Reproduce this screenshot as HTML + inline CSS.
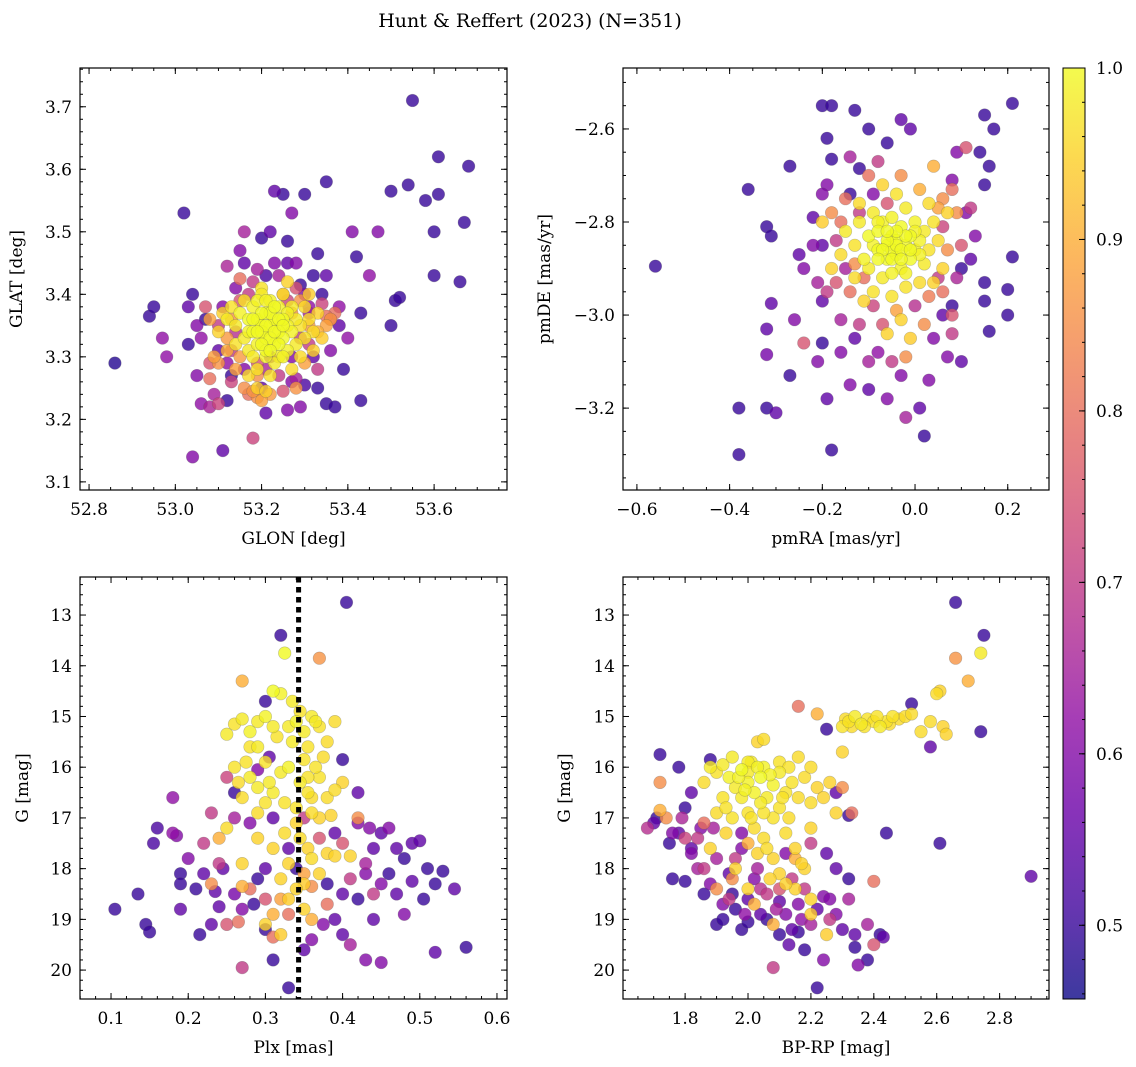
<!DOCTYPE html>
<html><head><meta charset="utf-8"><style>
html,body{margin:0;padding:0;background:#fff}
svg{display:block;font-family:"DejaVu Serif","Liberation Serif",serif}
</style></head><body>
<svg id="fig" xmlns="http://www.w3.org/2000/svg" width="1136" height="1067" viewBox="0 0 1136 1067">
<text x="530" y="27" font-size="19" text-anchor="middle">Hunt &amp; Reffert (2023) (N=351)</text>
</svg>
<script>
// ---------- data: [x, y, membership probability] ----------
const glonGlat = [
[52.86,3.29,.48],[52.94,3.365,.5],[52.95,3.38,.5],[52.97,3.33,.62],[52.98,3.30,.62],[53.02,3.53,.5],[53.03,3.32,.5],[53.03,3.38,.55],[53.04,3.40,.5],[53.05,3.35,.6],[53.07,3.36,.5],[53.04,3.14,.6],[53.06,3.225,.62],[53.08,3.22,.66],[53.10,3.225,.72],[53.11,3.15,.55],[53.12,3.23,.5],[53.12,3.445,.66],[53.13,3.27,.5],[53.15,3.47,.6],[53.16,3.50,.65],[53.18,3.17,.72],[53.20,3.49,.5],[53.21,3.43,.52],[53.22,3.50,.55],[53.23,3.565,.55],[53.25,3.56,.5],[53.27,3.53,.6],[53.26,3.485,.5],[53.28,3.45,.6],[53.29,3.415,.5],[53.30,3.56,.5],[53.32,3.43,.5],[53.33,3.465,.5],[53.32,3.30,.55],[53.31,3.38,.62],[53.34,3.40,.5],[53.35,3.58,.5],[53.35,3.43,.55],[53.33,3.25,.5],[53.35,3.225,.5],[53.37,3.22,.5],[53.38,3.38,.62],[53.39,3.28,.5],[53.41,3.50,.6],[53.42,3.46,.5],[53.43,3.37,.5],[53.43,3.23,.5],[53.45,3.43,.62],[53.47,3.50,.6],[53.50,3.565,.5],[53.50,3.35,.5],[53.51,3.39,.5],[53.52,3.395,.5],[53.54,3.575,.5],[53.55,3.71,.5],[53.58,3.55,.5],[53.60,3.50,.5],[53.60,3.43,.5],[53.61,3.56,.5],[53.61,3.62,.5],[53.66,3.42,.5],[53.67,3.515,.5],[53.68,3.605,.5],
[53.34,3.385,.72],[53.37,3.37,.8],[53.36,3.36,.75],[53.05,3.27,.6],[53.08,3.29,.75],[53.08,3.265,.8],[53.17,3.24,.8],[53.19,3.235,.85],[53.20,3.25,.55],[53.26,3.215,.6],[53.28,3.265,.65],[53.30,3.255,.52],[53.15,3.425,.8],[53.13,3.31,.7],[53.07,3.38,.75],[53.10,3.35,.7],[53.35,3.365,.8],[53.14,3.41,.6],[53.18,3.42,.7],[53.24,3.43,.65],[53.28,3.41,.75],[53.30,3.40,.6],[53.11,3.38,.6],[53.06,3.33,.62],[53.24,3.27,.7],[53.27,3.30,.6],[53.31,3.32,.7],[53.22,3.30,.6],[53.19,3.29,.75],[53.16,3.28,.6],[53.13,3.26,.72],[53.25,3.245,.75],[53.29,3.22,.6],[53.21,3.21,.55],[53.09,3.24,.65],[53.38,3.35,.55],[53.40,3.33,.62],[53.16,3.45,.55],[53.23,3.45,.6],
[53.17,3.40,.7],[53.26,3.39,.72],[53.14,3.34,.68],[53.29,3.33,.7],[53.21,3.28,.66],[53.27,3.26,.6],[53.15,3.39,.75],[53.31,3.37,.65],[53.12,3.29,.62],[53.33,3.28,.7],[53.19,3.44,.65],[53.26,3.45,.55],[53.10,3.31,.55],[53.36,3.31,.6],
[53.09,3.30,.88],[53.10,3.29,.86],[53.12,3.31,.9],[53.14,3.28,.88],[53.15,3.30,.87],[53.18,3.245,.86],[53.20,3.23,.88],[53.22,3.24,.87],[53.28,3.25,.86],[53.30,3.29,.88],[53.33,3.34,.9],[53.35,3.35,.88],[53.16,3.25,.85],[53.12,3.33,.87],[53.08,3.36,.88],[53.36,3.36,.86],[53.29,3.39,.86],[53.25,3.40,.84],[53.13,3.36,.86],[53.31,3.35,.87],[53.19,3.27,.85],[53.27,3.37,.86],
[53.12,3.36,.98],[53.13,3.38,.97],[53.14,3.35,.98],[53.15,3.37,.99],[53.16,3.33,.98],[53.16,3.39,.97],[53.17,3.36,1],[53.17,3.31,.98],[53.18,3.34,1],[53.18,3.38,.99],[53.19,3.36,1],[53.19,3.32,.99],[53.19,3.28,.97],[53.20,3.35,1],[53.20,3.40,.98],[53.21,3.33,1],[53.21,3.37,1],[53.21,3.30,.99],[53.22,3.35,1],[53.22,3.39,.99],[53.22,3.27,.97],[53.23,3.32,1],[53.23,3.36,1],[53.24,3.34,1],[53.24,3.38,.99],[53.24,3.30,.98],[53.25,3.36,1],[53.25,3.33,1],[53.26,3.35,.99],[53.26,3.31,.99],[53.27,3.38,.98],[53.27,3.34,.99],[53.28,3.36,.98],[53.28,3.32,.98],[53.29,3.35,.97],[53.30,3.38,.96],[53.30,3.33,.97],[53.31,3.36,.96],[53.32,3.34,.96],[53.33,3.37,.95],[53.20,3.41,.97],[53.25,3.40,.96],[53.18,3.30,.98],[53.14,3.32,.97],[53.23,3.29,.98],[53.29,3.30,.96],[53.32,3.31,.95],[53.19,3.25,.95],[53.17,3.27,.96],[53.26,3.42,.95],[53.31,3.40,.94],[53.10,3.34,.95],[53.11,3.37,.95],[53.21,3.245,.95],[53.27,3.28,.96],[53.34,3.33,.94],
[53.20,3.34,1],[53.21,3.35,1],[53.22,3.33,1],[53.23,3.34,1],[53.22,3.37,1],[53.20,3.37,1],[53.24,3.36,1],[53.19,3.34,1],[53.21,3.31,1],[53.23,3.38,1],[53.25,3.35,1],[53.18,3.36,1],[53.24,3.32,1],[53.20,3.32,1],[53.22,3.31,1],[53.26,3.37,.99],[53.19,3.39,.99],[53.17,3.34,.99],[53.25,3.30,.99],[53.21,3.39,.99]
];
const pmraPmde = [
[-0.56,-2.895,.5],[-0.38,-3.30,.5],[-0.38,-3.20,.5],[-0.36,-2.73,.5],[-0.32,-2.81,.5],[-0.31,-2.83,.5],[-0.32,-3.20,.5],[-0.30,-3.21,.55],[-0.31,-2.975,.55],[-0.32,-3.03,.55],[-0.32,-3.085,.58],[-0.27,-2.68,.5],[-0.27,-3.13,.5],[-0.24,-2.90,.6],[-0.26,-3.01,.6],[-0.20,-2.55,.5],[-0.18,-2.55,.5],[-0.19,-2.62,.5],[-0.18,-2.665,.5],[-0.13,-2.56,.5],[-0.10,-2.60,.5],[-0.12,-2.685,.5],[-0.18,-3.29,.5],[-0.19,-3.18,.55],[-0.16,-3.08,.6],[-0.14,-3.15,.6],[-0.10,-3.16,.55],[-0.06,-3.18,.6],[-0.03,-3.13,.6],[0.02,-3.26,.5],[0.01,-3.20,.55],[0.03,-3.14,.6],[0.04,-3.05,.6],[0.07,-3.09,.6],[0.10,-3.10,.55],[0.10,-2.90,.5],[0.14,-2.65,.5],[0.15,-2.57,.5],[0.17,-2.60,.5],[0.16,-2.68,.5],[0.15,-2.72,.5],[0.15,-2.93,.5],[0.15,-2.97,.5],[0.16,-3.035,.5],[0.20,-3.00,.5],[0.20,-2.945,.5],[0.21,-2.875,.5],[0.21,-2.545,.5],[0.08,-2.98,.5],[-0.06,-2.63,.5],[-0.03,-2.58,.55],[-0.01,-2.60,.55],[0.08,-2.71,.6],[0.09,-2.65,.6],[-0.14,-2.74,.5],[-0.09,-2.74,.6],[-0.20,-2.85,.55],[-0.20,-2.97,.55],[-0.21,-3.10,.6],[-0.20,-3.06,.5],[0.11,-2.78,.6],[0.12,-2.88,.55],[0.13,-2.83,.6],[-0.22,-2.79,.55],[-0.25,-2.87,.55],[0.06,-3.00,.55],[-0.08,-3.08,.62],[-0.13,-3.05,.55],
[-0.18,-2.78,.85],[-0.15,-2.75,.8],[-0.14,-2.95,.8],[-0.17,-2.93,.75],[-0.10,-2.70,.8],[-0.08,-2.67,.7],[-0.03,-2.70,.85],[0.01,-2.73,.9],[0.04,-2.68,.9],[0.06,-2.75,.85],[0.08,-2.73,.8],[0.09,-2.78,.85],[0.10,-2.85,.75],[0.06,-2.95,.8],[0.08,-3.00,.75],[0.08,-3.04,.7],[0.02,-3.02,.85],[-0.02,-3.09,.85],[-0.07,-3.02,.75],[-0.12,-3.02,.7],[-0.16,-3.01,.65],[-0.21,-2.93,.65],[-0.22,-2.85,.6],[-0.10,-3.10,.65],[-0.05,-3.10,.7],[-0.24,-3.06,.75],[-0.14,-2.66,.65],[0.11,-2.64,.75],[-0.19,-2.72,.6],[0.12,-2.77,.7],[-0.02,-3.22,.65],[-0.20,-2.74,.6],[-0.16,-2.80,.8],[-0.13,-2.89,.85],[0.05,-2.77,.88],[0.07,-2.86,.85],[-0.04,-2.99,.88],[-0.11,-2.92,.8],[0.03,-2.96,.82],
[-0.17,-2.84,.7],[-0.15,-2.90,.65],[0.06,-2.81,.72],[0.05,-2.92,.7],[-0.09,-2.98,.72],[-0.12,-2.78,.7],[0.00,-2.98,.68],[-0.06,-2.76,.75],[0.09,-2.92,.66],[-0.19,-2.95,.7],
[-0.15,-2.82,.98],[-0.13,-2.85,.97],[-0.12,-2.80,.98],[-0.11,-2.88,.99],[-0.10,-2.83,1],[-0.10,-2.90,.98],[-0.09,-2.78,.98],[-0.08,-2.86,1],[-0.08,-2.82,1],[-0.07,-2.92,.98],[-0.07,-2.80,.99],[-0.06,-2.85,1],[-0.06,-2.88,1],[-0.05,-2.83,1],[-0.05,-2.79,.99],[-0.04,-2.87,1],[-0.04,-2.84,1],[-0.03,-2.90,.99],[-0.03,-2.81,1],[-0.02,-2.85,1],[-0.02,-2.77,.98],[-0.01,-2.88,1],[-0.01,-2.83,1],[0.00,-2.86,.99],[0.00,-2.80,.99],[0.01,-2.84,.99],[0.02,-2.89,.98],[0.02,-2.82,.98],[0.03,-2.86,.97],[0.04,-2.80,.97],[0.05,-2.84,.96],[-0.09,-2.95,.97],[-0.05,-2.96,.97],[-0.02,-2.94,.97],[0.01,-2.93,.96],[-0.13,-2.92,.96],[-0.12,-2.76,.96],[-0.04,-2.74,.97],[0.03,-2.76,.96],[-0.16,-2.87,.96],[0.06,-2.90,.95],[-0.07,-2.72,.95],[-0.03,-3.01,.95],[-0.06,-3.04,.95],[-0.20,-2.80,.94],[-0.18,-2.90,.95],[0.07,-2.78,.95],[-0.11,-2.97,.95],[0.04,-2.93,.95],[-0.01,-3.05,.94],
[-0.05,-2.86,1],[-0.04,-2.85,1],[-0.06,-2.84,1],[-0.03,-2.86,1],[-0.05,-2.88,1],[-0.07,-2.86,1],[-0.02,-2.83,1],[-0.04,-2.82,1],[-0.08,-2.88,1],[-0.01,-2.86,1],[-0.03,-2.88,1],[-0.06,-2.82,1],[-0.09,-2.85,.99],[0.01,-2.87,.99],[-0.05,-2.91,.99],[-0.02,-2.91,.99],[-0.08,-2.80,.99],[0.00,-2.82,.99]
];
const plxG = [
[0.105,18.8,.5],[0.135,18.5,.5],[0.145,19.1,.5],[0.15,19.25,.5],[0.155,17.5,.52],[0.16,17.2,.52],[0.18,16.6,.62],[0.18,17.3,.62],[0.185,17.35,.6],[0.19,18.1,.5],[0.19,18.3,.5],[0.19,18.8,.55],[0.20,17.8,.6],[0.21,18.4,.5],[0.215,19.3,.5],[0.23,19.1,.55],[0.235,18.45,.55],[0.24,18.75,.55],[0.245,18.0,.55],[0.26,18.5,.58],[0.27,18.8,.6],[0.27,19.95,.7],[0.285,18.7,.5],[0.30,19.2,.5],[0.31,19.8,.5],[0.33,20.35,.5],[0.32,13.4,.5],[0.405,12.75,.5],[0.37,13.85,.86],[0.325,13.75,1],[0.27,14.3,.9],[0.40,15.85,.5],[0.42,16.5,.55],[0.435,17.2,.6],[0.44,17.6,.55],[0.45,17.3,.55],[0.46,17.2,.6],[0.47,17.6,.55],[0.48,17.8,.5],[0.49,17.5,.55],[0.50,17.45,.55],[0.51,18.0,.5],[0.52,18.3,.5],[0.53,18.05,.5],[0.545,18.4,.55],[0.56,19.55,.5],[0.52,19.65,.55],[0.48,18.9,.6],[0.47,18.5,.55],[0.45,18.3,.6],[0.44,19.0,.55],[0.43,19.8,.6],[0.41,19.5,.65],[0.40,19.3,.55],[0.39,19.0,.55],[0.375,19.1,.6],[0.36,19.4,.6],[0.45,19.85,.6],[0.35,19.6,.55],[0.30,14.7,.5],[0.305,15.8,.55],[0.29,16.05,.6],[0.31,17.0,.55],[0.33,17.6,.55],[0.34,18.0,.5],[0.30,18.0,.55],[0.29,18.2,.5],[0.40,18.5,.55],[0.42,18.6,.5],[0.39,17.3,.55],[0.46,18.1,.5],[0.49,18.25,.55],[0.505,18.6,.5],[0.43,18.1,.6],[0.38,18.3,.5],[0.26,16.5,.5],[0.28,17.1,.6],[0.22,18.1,.55],
[0.22,17.5,.7],[0.23,16.9,.7],[0.26,17.0,.65],[0.28,18.4,.8],[0.36,18.35,.85],[0.38,18.7,.8],[0.41,18.2,.7],[0.43,17.9,.65],[0.42,17.1,.6],[0.30,18.6,.75],[0.265,19.05,.8],[0.44,18.5,.7],[0.35,17.0,.7],[0.25,19.1,.75],[0.33,18.9,.8],[0.40,17.5,.75],[0.24,17.9,.7],[0.31,19.35,.8],[0.37,17.4,.75],[0.25,16.2,.72],[0.32,18.6,.88],[0.27,18.35,.9],[0.35,18.1,.88],[0.42,17.0,.85],[0.23,18.3,.85],
[0.25,15.35,.98],[0.26,15.15,.97],[0.27,15.05,.98],[0.28,15.3,.99],[0.29,15.1,.98],[0.30,15.0,.99],[0.31,14.5,1],[0.32,14.55,.99],[0.33,15.2,.98],[0.335,14.7,.98],[0.34,15.1,.99],[0.35,15.3,.98],[0.355,15.6,.97],[0.36,15.0,.98],[0.365,15.1,.98],[0.37,15.2,.97],[0.38,15.5,.96],[0.39,15.1,.96],[0.28,15.6,.97],[0.26,16.0,.97],[0.265,16.3,.96],[0.27,16.6,.96],[0.28,16.2,.98],[0.29,16.4,.98],[0.30,16.7,.97],[0.31,16.5,.98],[0.32,16.1,.98],[0.33,16.0,.99],[0.34,16.8,.97],[0.345,16.3,.98],[0.355,16.5,.97],[0.36,16.9,.96],[0.37,16.2,.97],[0.38,16.6,.96],[0.39,16.45,.96],[0.40,16.3,.95],[0.30,15.9,.97],[0.29,17.4,.95],[0.31,17.6,.95],[0.33,17.9,.95],[0.36,17.8,.96],[0.38,17.7,.95],[0.39,17.75,.95],[0.41,17.75,.95],[0.37,18.1,.95],[0.34,18.4,.95],[0.32,18.2,.95],[0.35,18.8,.95],[0.30,19.1,.95],[0.32,19.3,.94],[0.27,17.9,.95],[0.25,17.2,.96],[0.24,17.4,.9],[0.35,15.85,.97],[0.365,16.0,.97],[0.345,17.4,.96],[0.325,17.3,.96],[0.29,16.9,.96],[0.315,15.4,.97],[0.345,14.9,.97],[0.385,16.95,.95],
[0.29,15.6,.98],[0.305,16.3,.98],[0.325,16.7,.97],[0.335,15.5,.98],[0.355,16.2,.97],[0.36,16.6,.96],[0.375,15.8,.96],[0.275,15.9,.97],[0.31,15.2,.98],[0.34,17.1,.95],[0.355,17.6,.95],[0.37,17.0,.95],[0.35,18.3,.94],[0.33,18.6,.94],[0.36,19.0,.9],[0.31,18.9,.9]
];
const colorMag = [
[2.30,15.2,.97],[2.32,15.1,.97],[2.34,15.0,.98],[2.36,15.15,.98],[2.38,15.05,.97],[2.40,15.1,.97],[2.42,15.2,.98],[2.44,15.1,.97],[2.46,15.0,.97],[2.48,15.05,.96],[2.50,15.0,.96],[2.52,14.95,.96],[2.55,15.3,.96],[2.58,15.1,.96],[2.60,14.55,.96],[2.61,14.5,.95],[2.62,15.2,.95],[2.63,15.35,.95],[2.66,13.85,.86],[2.70,14.3,.9],[2.74,13.75,.98],[2.75,13.4,.5],[2.66,12.75,.5],[2.74,15.3,.5],[2.61,17.5,.5],[2.90,18.15,.55],[2.58,15.6,.55],[2.52,14.75,.5],[2.44,17.3,.5],[2.05,15.45,.96],[2.03,15.5,.95],[2.16,14.8,.8],[2.25,15.25,.5],[2.22,14.95,.9],[2.30,15.7,.95],[2.33,15.2,.96],[2.37,15.2,.97],[2.41,15.0,.97],[2.45,15.15,.96],[2.31,15.05,.96],
[1.88,16.0,.98],[1.90,16.1,.97],[1.92,15.95,.98],[1.94,16.2,.99],[1.95,15.8,.98],[1.96,16.4,.98],[1.98,16.05,1],[2.00,16.3,.99],[2.01,15.9,.98],[2.02,16.5,.99],[2.04,16.2,1],[2.05,16.0,.99],[2.06,16.6,.98],[2.08,16.35,.99],[2.10,16.1,.98],[2.12,16.5,.97],[2.14,16.3,.97],[2.16,16.6,.96],[2.18,16.2,.96],[2.20,16.7,.96],[2.22,16.4,.95],[2.24,16.6,.95],[2.26,16.3,.95],[2.10,16.8,.97],[2.00,16.9,.97],[1.98,16.6,.98],[1.95,17.0,.97],[2.02,17.2,.96],[2.05,17.4,.96],[2.08,17.0,.97],[2.12,17.3,.96],[2.15,17.6,.95],[2.08,17.8,.95],[2.10,18.1,.95],[2.18,18.0,.95],[2.15,18.4,.95],[2.20,18.6,.95],[2.20,18.9,.94],[2.25,19.3,.94],[1.92,16.6,.97],[1.90,16.9,.96],[1.86,16.3,.96],[2.00,15.9,.98],[2.05,16.9,.97],[2.10,15.9,.97],[2.20,16.0,.96],[2.16,15.8,.96],[2.13,16.0,.97],[1.93,17.3,.95],[2.03,17.7,.95],[2.07,18.2,.95],[2.00,18.4,.95],[1.96,18.0,.95],[1.88,17.6,.95],[2.00,16.1,.98],[2.20,17.2,.95],[2.28,16.9,.95],
[1.97,16.2,.99],[2.03,16.0,.99],[2.07,16.15,.99],[1.99,16.45,.99],[2.04,16.7,.98],[2.11,16.6,.97],[1.93,16.8,.97],[2.06,17.6,.96],[2.01,17.0,.97],[2.13,17.0,.96],[2.17,17.9,.95],[2.12,18.3,.95],
[1.72,16.85,.9],[1.72,16.3,.85],[1.74,17.0,.85],[1.90,18.4,.85],[2.02,18.7,.9],[2.08,19.1,.9],[2.15,17.8,.9],[2.00,17.5,.9],[2.30,16.4,.85],[2.33,16.9,.8],[2.40,18.25,.8],[1.95,18.2,.85],[1.86,17.1,.8],
[1.68,17.2,.68],[1.70,17.1,.55],[1.72,15.75,.5],[1.71,17.0,.5],[1.75,17.5,.5],[1.76,18.2,.5],[1.78,17.3,.55],[1.78,16.0,.5],[1.80,16.8,.5],[1.80,18.25,.5],[1.82,16.5,.55],[1.82,17.7,.6],[1.84,18.0,.65],[1.85,17.2,.6],[1.86,18.5,.5],[1.88,18.3,.6],[1.88,15.85,.5],[1.90,19.1,.5],[1.90,17.8,.65],[1.92,18.7,.6],[1.92,19.0,.5],[1.94,18.1,.55],[1.95,18.5,.5],[1.96,18.8,.5],[1.98,19.2,.5],[1.98,17.6,.6],[2.00,18.6,.55],[2.00,19.05,.5],[2.02,18.2,.6],[2.04,18.9,.55],[2.06,19.0,.5],[2.06,18.5,.7],[2.08,19.95,.7],[2.10,18.65,.55],[2.10,19.3,.5],[2.12,18.9,.6],[2.14,19.2,.55],[2.14,18.2,.7],[2.16,19.25,.5],[2.16,18.7,.6],[2.18,19.6,.5],[2.20,19.1,.65],[2.22,18.8,.55],[2.22,20.35,.5],[2.24,18.55,.6],[2.24,19.8,.6],[2.26,18.6,.6],[2.28,18.0,.55],[2.28,18.9,.6],[2.30,19.2,.55],[2.32,18.2,.5],[2.34,19.55,.5],[2.35,19.9,.6],[2.34,19.3,.55],[2.38,19.8,.5],[2.38,19.1,.65],[2.40,19.5,.75],[2.42,19.3,.5],[2.43,19.35,.55],[2.32,16.95,.5],[2.28,16.5,.55],[2.25,17.7,.55],[2.20,17.5,.7],[1.98,17.3,.6],[1.76,17.3,.6],[1.82,17.6,.55],[2.03,18.0,.65],[2.12,17.7,.6],[1.86,18.0,.7],[1.94,18.6,.7],[2.18,18.4,.7],[2.26,19.0,.7],[1.80,17.4,.72],[2.10,18.4,.75],[2.32,18.6,.65],
[1.84,17.4,.7],[1.89,17.2,.65],[1.96,17.8,.7],[2.04,18.4,.68],[2.09,18.8,.65],[2.17,19.0,.62],[2.13,19.5,.55],[1.99,18.9,.62],[1.79,17.0,.66]
];
const plxRef = [0.343];
const p1XTicks = [52.8,53.0,53.2,53.4,53.6];
const p1YTicks = [3.1,3.2,3.3,3.4,3.5,3.6,3.7];
const p2XTicks = [-0.6,-0.4,-0.2,0.0,0.2];
const p2YTicks = [-3.2,-3.0,-2.8,-2.6];
const p3XTicks = [0.1,0.2,0.3,0.4,0.5,0.6];
const gTicks = [13,14,15,16,17,18,19,20];
const p4XTicks = [1.8,2.0,2.2,2.4,2.6,2.8];
const cbTicks = [0.5,0.6,0.7,0.8,0.9,1.0];
const cbRange = [0.457,1.0];

// ---------- drawing ----------
const NS='http://www.w3.org/2000/svg';
const svg=document.getElementById('fig');
const FS=17;
function mk(tag,attrs,parent){const e=document.createElementNS(NS,tag);for(const k in attrs)e.setAttribute(k,attrs[k]);(parent||svg).appendChild(e);return e;}
const stops=[[13,8,135],[65,4,157],[106,0,168],[143,13,164],[177,42,144],[204,71,120],[225,100,98],[242,132,75],[252,166,54],[252,206,37],[240,249,33]];
function plasma(t){t=Math.max(0,Math.min(1,t));const f=t*10,i=Math.min(9,Math.floor(f)),u=f-i;const a=stops[i],b=stops[i+1];return 'rgb('+a.map((v,k)=>Math.round(v+(b[k]-v)*u)).join(',')+')';}
function cnorm(c){return (c-cbRange[0])/(cbRange[1]-cbRange[0]);}
function fmt(v,d){return (v<0?'\u2212':'')+Math.abs(v).toFixed(d);}

function panel(o){
  const g=mk('g',{});
  
  
  const sx=v=>o.L+(v-o.x0)/(o.x1-o.x0)*(o.R-o.L);
  const sy=v=>o.inv? o.T+(v-o.y0)/(o.y1-o.y0)*(o.B-o.T) : o.B-(v-o.y0)/(o.y1-o.y0)*(o.B-o.T);
  const clip='c'+o.name;
  const cp=mk('clipPath',{id:clip},g);mk('rect',{x:o.L,y:o.T,width:o.R-o.L,height:o.B-o.T},cp);
  const pts=mk('g',{'clip-path':'url(#'+clip+')'},g);
  
  
  o.data.slice().sort((a,b)=>a[2]-b[2]).forEach(d=>{
    const c=mk('circle',{cx:sx(d[0]).toFixed(1),cy:sy(d[1]).toFixed(1),r:6.3,fill:plasma(cnorm(d[2])),'fill-opacity':0.8,stroke:'#555','stroke-opacity':0.35,'stroke-width':0.6},pts);
    
    
  });
  if(o.vline){o.vline.forEach(v=>{const l=mk('line',{x1:sx(v),x2:sx(v),y1:o.T,y2:o.B,stroke:'#000','stroke-width':5,'stroke-dasharray':'5.5,4.5'},g);
    
    });}
  const tk=mk('g',{stroke:'#000','stroke-width':1},g);
  function xt(v,len){const x=sx(v);if(x<o.L-0.5||x>o.R+0.5)return;mk('line',{x1:x,x2:x,y1:o.B,y2:o.B-len},tk);mk('line',{x1:x,x2:x,y1:o.T,y2:o.T+len},tk);}
  function yt(v,len){const y=sy(v);if(y<o.T-0.5||y>o.B+0.5)return;mk('line',{x1:o.L,x2:o.L+len,y1:y,y2:y},tk);mk('line',{x1:o.R,x2:o.R-len,y1:y,y2:y},tk);}
  const xa=Math.min(o.x0,o.x1),xb=Math.max(o.x0,o.x1);
  for(let v=Math.ceil(xa/o.xm)*o.xm;v<=xb;v+=o.xm)xt(v,3);
  const ya=Math.min(o.y0,o.y1),yb=Math.max(o.y0,o.y1);
  for(let v=Math.ceil(ya/o.ym)*o.ym;v<=yb;v+=o.ym)yt(v,3);
  o.xt.forEach(v=>{xt(v,6);const t=mk('text',{x:sx(v),y:o.B+25,'font-size':FS,'text-anchor':'middle'},g);t.textContent=fmt(v,o.xd);
    });
  o.yt.forEach(v=>{yt(v,6);const t=mk('text',{x:o.L-8,y:sy(v)+6,'font-size':FS,'text-anchor':'end'},g);t.textContent=fmt(v,o.yd);
    });
  const fr=mk('rect',{x:o.L,y:o.T,width:o.R-o.L,height:o.B-o.T,fill:'none',stroke:'#000','stroke-width':1.2},g);
  
  const xl=mk('text',{x:(o.L+o.R)/2,y:o.B+54,'font-size':FS,'text-anchor':'middle'},g);xl.textContent=o.xlab;
  
  const cy=(o.T+o.B)/2;
  const yl=mk('text',{x:o.ylx,y:cy,'font-size':FS,'text-anchor':'middle',transform:'rotate(-90 '+o.ylx+' '+cy+')'},g);yl.textContent=o.ylab;
  
}
panel({name:'glon-glat-panel',data:glonGlat,L:80,R:507,T:68,B:490,x0:52.779,x1:53.769,y0:3.087,y1:3.762,xm:0.05,ym:0.02,xt:p1XTicks,yt:p1YTicks,xd:1,yd:1,xlab:'GLON [deg]',ylab:'GLAT [deg]',ylx:22});
panel({name:'pm-panel',data:pmraPmde,L:623,R:1049,T:68,B:490,x0:-0.630,x1:0.289,y0:-3.376,y1:-2.469,xm:0.05,ym:0.05,xt:p2XTicks,yt:p2YTicks,xd:1,yd:1,xlab:'pmRA [mas/yr]',ylab:'pmDE [mas/yr]',ylx:550});
panel({name:'plx-g-panel',data:plxG,L:80,R:507,T:577,B:999,x0:0.0598,x1:0.613,y0:12.25,y1:20.57,inv:true,xm:0.02,ym:0.2,xt:p3XTicks,yt:gTicks,xd:1,yd:0,xlab:'Plx [mas]',ylab:'G [mag]',ylx:28,vline:plxRef});
panel({name:'cmd-panel',data:colorMag,L:623,R:1049,T:577,B:999,x0:1.6025,x1:2.957,y0:12.25,y1:20.57,inv:true,xm:0.05,ym:0.2,xt:p4XTicks,yt:gTicks,xd:1,yd:0,xlab:'BP-RP [mag]',ylab:'G [mag]',ylx:570});

(function(){
  const L=1063,R=1085,T=68,B=999;
  const g=mk('g',{});
  
  
  const defs=mk('defs',{},g);
  const lg=mk('linearGradient',{id:'cbg',x1:0,y1:1,x2:0,y2:0},defs);
  for(let i=0;i<=20;i++)mk('stop',{offset:i/20,'stop-color':plasma(i/20)},lg);
  mk('rect',{x:L,y:T,width:R-L,height:B-T,fill:'url(#cbg)','fill-opacity':0.8},g);
  const sy=v=>B-(v-cbRange[0])/(cbRange[1]-cbRange[0])*(B-T);
  for(let v=0.46;v<=1.0001;v+=0.02){mk('line',{x1:R,x2:R-3,y1:sy(v),y2:sy(v),stroke:'#000'},g);}
  cbTicks.forEach(v=>{mk('line',{x1:R,x2:R-6,y1:sy(v),y2:sy(v),stroke:'#000'},g);
    const t=mk('text',{x:R+11,y:sy(v)+6,'font-size':FS},g);t.textContent=v.toFixed(1);
    });
  mk('rect',{x:L,y:T,width:R-L,height:B-T,fill:'none',stroke:'#000','stroke-width':1},g);
})();
</script>
</body></html>
